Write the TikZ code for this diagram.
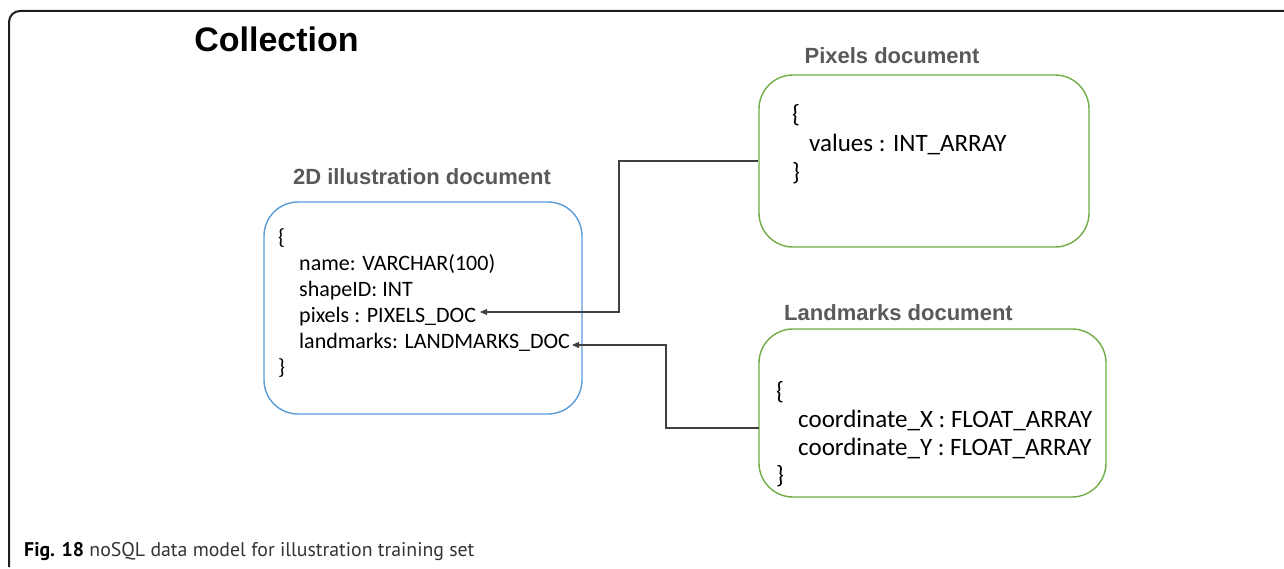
\documentclass[tikz,border=0pt]{standalone}
\usepackage{fontspec}
\setmainfont{Carlito}
\newfontfamily\headfont{Liberation Sans}
\newfontfamily\capfont{PT Sans}
\usetikzlibrary{arrows.meta,calc}

\definecolor{framegray}{HTML}{1E1E1E}
\definecolor{titlegray}{HTML}{595959}
\definecolor{docblue}{HTML}{5B9BD5}
\definecolor{docgreen}{HTML}{70AD47}
\definecolor{linkgray}{HTML}{404040}
\definecolor{captiongray}{HTML}{333333}

\tikzset{
  docbox/.style={draw, line width=1.4pt, rounded corners=34pt, inner sep=0pt},
  bluedoc/.style={docbox, draw=docblue},
  greendoc/.style={docbox, draw=docgreen},
  doctitle/.style={anchor=base, inner sep=0pt, text=titlegray, font=\headfont\bfseries\fontsize{22}{26}\selectfont},
  fieldsm/.style={anchor=base west, inner sep=0pt, font=\fontsize{22}{26}\selectfont},
  fieldlg/.style={anchor=base west, inner sep=0pt, font=\fontsize{25}{29}\selectfont},
  link/.style={draw=linkgray, line width=1.2pt, -{Triangle[length=7pt,width=6pt]}}
}

\begin{document}
\begin{tikzpicture}[x=1pt,y=-1pt]
  \useasboundingbox (0,0) rectangle (1284,569);

  % collection frame (runs off the right and bottom edges)
  \draw[framegray, line width=2pt, rounded corners=11pt] (9,567) -- (9,11) -- (1290,11);
  \node[anchor=base, inner sep=0pt, font=\headfont\bfseries\fontsize{34}{40}\selectfont] (collection) at (276.5,52) {Collection};

  % 2D illustration document
  \node[doctitle] (illtitle) at (422,185) {2D illustration document};
  \node[bluedoc, minimum width=318pt, minimum height=212pt] (illbox) at (423,308) {};
  \node[fieldsm] (illopen) at (278,244) {\{};
  \node[fieldsm] (illname) at (299,270) {name: VARCHAR(100)};
  \node[fieldsm] (illshape) at (299,296) {shapeID: INT};
  \node[fieldsm] (illpix) at (299,322) {pixels : PIXELS\_DOC};
  \node[fieldsm] (illlm) at (299,348) {landmarks: LANDMARKS\_DOC};
  \node[fieldsm] (illclose) at (278,374) {\}};

  % pixels document
  \node[doctitle] (pixtitle) at (892,64) {Pixels document};
  \node[greendoc, minimum width=330pt, minimum height=172pt] (pixbox) at (924,161) {};
  \node[fieldlg] (pixopen) at (792,123) {\{};
  \node[fieldlg] (pixvalues) at (809,152) {values : INT\_ARRAY};
  \node[fieldlg] (pixclose) at (792,181) {\}};

  % landmarks document
  \node[doctitle] (lmtitle) at (898.5,320) {Landmarks document};
  \node[greendoc, minimum width=347pt, minimum height=168pt] (lmbox) at (932.5,413) {};
  \node[fieldlg] (lmopen) at (776,399) {\{};
  \node[fieldlg] (lmx) at (798,427) {coordinate\_X : FLOAT\_ARRAY};
  \node[fieldlg] (lmy) at (798,455) {coordinate\_Y : FLOAT\_ARRAY};
  \node[fieldlg] (lmclose) at (776,483) {\}};

  % references between documents
  \coordinate (pixbend) at (619,312);
  \coordinate (pixtip) at (480,312);
  \draw[link] (pixbox.west) -| (pixbend) -- (pixtip);

  \coordinate (lmout) at (759,428);
  \coordinate (lmbend) at (666,345);
  \coordinate (lmtip) at (572,345);
  \draw[link] (lmout) -| (lmbend) -- (lmtip);

  % caption
  \node[anchor=base west, inner sep=0pt, text=captiongray, font=\capfont\fontsize{19.8}{24}\selectfont] (caption) at (24,556)
    {\textbf{\color{black}Fig. 18} noSQL data model for illustration training set};
\end{tikzpicture}
\end{document}
